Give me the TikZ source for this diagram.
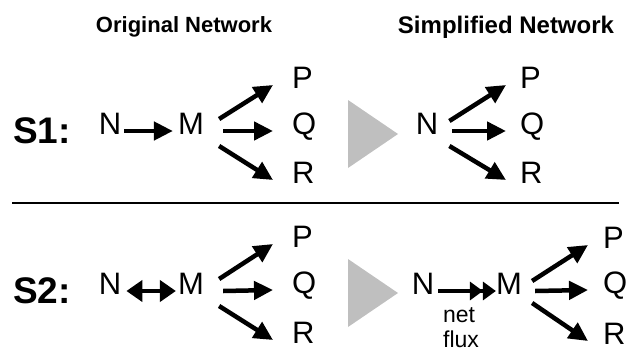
\documentclass[tikz,border=0pt]{standalone}
\usepackage{fontspec}
\setmainfont{Liberation Sans}
\usetikzlibrary{arrows.meta}

\begin{document}
\begin{tikzpicture}[x=1pt, y=-1pt, >={Triangle[length=19pt,width=18pt]},
    sp/.style={font=\fontsize{31}{31}\selectfont, inner sep=0pt, text height=0.716em, text depth=0pt},
    tag/.style={font=\bfseries\fontsize{37}{37}\selectfont, inner sep=0pt},
    hdr/.style={font=\bfseries\fontsize{22}{22}\selectfont, inner sep=0pt},
    small/.style={font=\fontsize{23}{23}\selectfont, inner sep=0pt},
    rx/.style={->, line width=4.5pt},
    simp/.style={fill=black!25, draw=none}]
    \useasboundingbox (0,0) rectangle (631,356);

    % Headers
    \node[hdr] (orig) at (184,27) {Original Network};
    \node[hdr, font=\bfseries\fontsize{24}{24}\selectfont] (simp) at (506,27) {Simplified Network};

    % Separator
    \draw[line width=1.8pt] (12,203) -- (619,203);

    % Row labels
    \node[tag] (s1) at (42,131) {S1:};
    \node[tag] (s2) at (42,291) {S2:};

    % Simplification triangles
    \foreach \y in {134, 293} {
        \fill[simp] (348,\y-34) -- (398,\y) -- (348,\y+34) -- cycle;
    }

    % S1, original network
    \node[sp] (N1) at (110,131) {N};
    \node[sp] (M1) at (191,131) {M};
    \node[sp, anchor=west] (P1) at (292,85) {P};
    \node[sp, anchor=west] (Q1) at (292,131) {Q};
    \node[sp, anchor=west] (R1) at (292,180) {R};
    \draw[rx, shorten <=3pt, shorten >=5pt] (N1) -- (M1);
    \foreach \t/\sx/\sy in {P1/15/12, Q1/19/0, R1/15/-15} {
        \draw[rx] ([shift={(\sx pt,\sy pt)}]M1.east) -- ([xshift=-19pt]\t.west);
    }

    % S1, simplified network
    \node[sp] (N2) at (427,131) {N};
    \node[sp, anchor=west] (P2) at (520,85) {P};
    \node[sp, anchor=west] (Q2) at (520,131) {Q};
    \node[sp, anchor=west] (R2) at (520,180) {R};
    \foreach \t/\sx/\sy in {P2/11/10, Q2/14/0, R2/11/-15} {
        \draw[rx] ([shift={(\sx pt,\sy pt)}]N2.east) -- ([xshift=-14pt]\t.west);
    }

    % S2, original network
    \node[sp] (N3) at (110,291) {N};
    \node[sp] (M3) at (191,291) {M};
    \node[sp, anchor=west] (P3) at (292,244) {P};
    \node[sp, anchor=west] (Q3) at (292,290) {Q};
    \node[sp, anchor=west] (R3) at (292,340) {R};
    \draw[{Triangle[length=16pt,width=21pt]}-{Triangle[length=16pt,width=21pt]}, line width=4.5pt,
        shorten <=5pt, shorten >=2pt] (N3) -- (M3);
    \foreach \t/\sx/\sy in {P3/15/12, Q3/19/0, R3/15/-15} {
        \draw[rx] ([shift={(\sx pt,\sy pt)}]M3.east) -- ([xshift=-19pt]\t.west);
    }

    % S2, simplified network
    \node[sp] (N4) at (423,291) {N};
    \node[sp] (M4) at (509,291) {M};
    \node[sp, anchor=west] (P4) at (603,245) {P};
    \node[sp, anchor=west] (Q4) at (603,290) {Q};
    \node[sp, anchor=west] (R4) at (603,341) {R};
    \draw[-{Triangle[length=13pt,width=18pt]Triangle[length=13pt,width=18pt,sep=-6pt]}, line width=4pt,
        shorten <=4pt, shorten >=6pt] (N4) -- (M4);
    \node[small, anchor=base] (net) at (459,322) {net};
    \node[small, anchor=base] (flux) at (461,347) {flux};
    \foreach \t/\sx/\sy in {P4/10/10, Q4/13/0, R4/10/-12} {
        \draw[rx] ([shift={(\sx pt,\sy pt)}]M4.east) -- ([xshift=-15pt]\t.west);
    }
\end{tikzpicture}
\end{document}
